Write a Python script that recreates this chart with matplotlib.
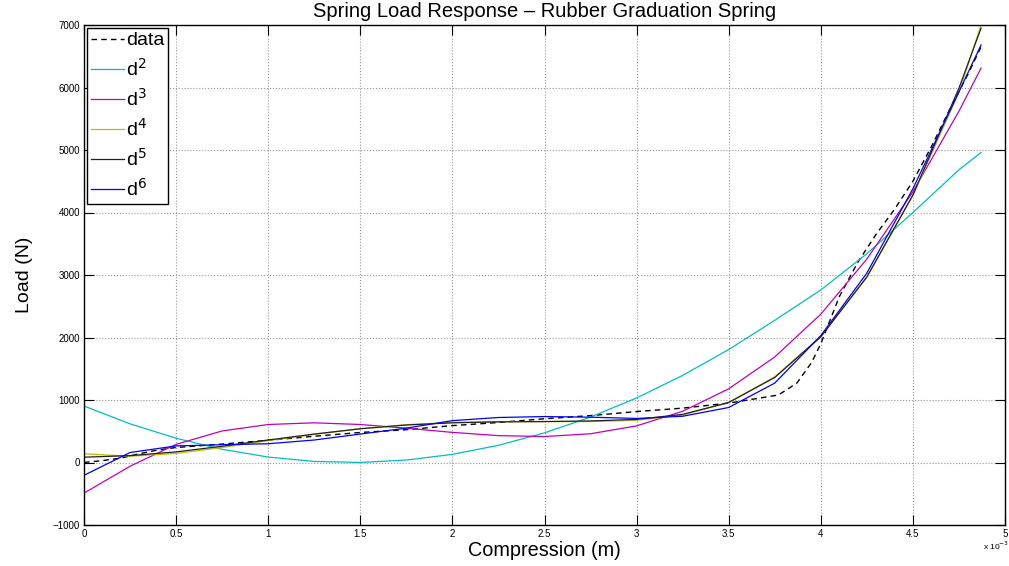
import matplotlib.pyplot as plt
import numpy as np

plt.rcParams['font.family'] = ['Liberation Sans', 'DejaVu Sans']

# compression values are in units of 1e-3 m (axis shows "x 10^-3")
x_fit = [0, 0.25, 0.5, 0.75, 1.0, 1.25, 1.5, 1.75, 2.0, 2.25, 2.5,
         2.75, 3.0, 3.25, 3.5, 3.75, 4.0, 4.25, 4.5, 4.75, 4.87]

load_d2 = [904, 619, 388, 211, 87, 17, 1, 39, 130, 275, 474,
           727, 1033, 1393, 1807, 2275, 2760, 3340, 4000, 4683, 4960]
load_d3 = [-490, -60, 290, 505, 608, 635, 608, 549, 482, 430, 415,
           460, 586, 819, 1179, 1688, 2373, 3255, 4330, 5620, 6310]
load_d4 = [140, 100, 145, 240, 350, 450, 540, 605, 640, 655, 655,
           655, 675, 760, 960, 1370, 2020, 2960, 4270, 5920, 7000]
load_d5 = [85, 110, 170, 260, 360, 455, 540, 600, 635, 650, 655,
           665, 690, 770, 960, 1360, 2010, 2970, 4280, 5990, 6950]
load_d6 = [-205, 160, 265, 285, 300, 360, 455, 550, 670, 720, 735,
           725, 705, 740, 880, 1270, 2030, 3030, 4380, 5930, 6680]

x_data = [0, 0.1, 0.2, 0.3, 0.4, 0.5, 0.75, 1.0, 1.25, 1.5, 1.75, 2.0,
          2.25, 2.5, 2.75, 3.0, 3.25, 3.5, 3.77, 3.87, 3.95, 4.0, 4.1,
          4.2, 4.3, 4.4, 4.5, 4.6, 4.7, 4.8, 4.87]
load_data = [0, 30, 70, 140, 200, 240, 295, 355, 420, 480, 525, 590,
             640, 700, 750, 815, 870, 950, 1080, 1270, 1600, 1900, 2650,
             3200, 3650, 4050, 4500, 5050, 5650, 6220, 6650]

x_ticks = [0, 0.5, 1, 1.5, 2, 2.5, 3, 3.5, 4, 4.5, 5]
x_tick_labels = ['0', '0.5', '1', '1.5', '2', '2.5', '3', '3.5', '4', '4.5', '5']
y_ticks = [-1000, 0, 1000, 2000, 3000, 4000, 5000, 6000, 7000]

fig = plt.figure(figsize=(10.09, 5.66), dpi=100)
ax = fig.add_axes([84 / 1009, 41 / 566, 921 / 1009, 500 / 566])

ax.plot(x_data, load_data, color='k', linestyle=(0, (4, 3)), lw=1.0, label='data')
ax.plot(x_fit, load_d2, color='#00bfbf', lw=0.9, label=r'd$^2$')
ax.plot(x_fit, load_d3, color='#bf00bf', lw=0.9, label=r'd$^3$')
ax.plot(x_fit, load_d4, color='#bfbf00', lw=0.9, label=r'd$^4$')
ax.plot(x_fit, load_d5, color='#222222', lw=0.9, label=r'd$^5$')
ax.plot(x_fit, load_d6, color='#0000ff', lw=0.9, label=r'd$^6$')

ax.set_xlim(0, 5)
ax.set_ylim(-1000, 7000)
ax.set_xticks(x_ticks)
ax.set_xticklabels(x_tick_labels)
ax.set_yticks(y_ticks)
ax.tick_params(direction='in', top=True, right=True, length=7, width=0.8,
               labelsize=7, pad=3)
ax.grid(True, linestyle=':', color='#999999', linewidth=0.8)
for s in ax.spines.values():
    s.set_linewidth(1.0)

ax.set_title('Spring Load Response \u2013 Rubber Graduation Spring', fontsize=14.5, pad=6)
ax.set_xlabel('Compression (m)', fontsize=14.3, labelpad=1)
ax.set_ylabel('Load (N)', fontsize=14, labelpad=14)
fig.text(0.974, 0.028, r'x 10$^{-3}$', fontsize=6)

leg = ax.legend(loc='upper left', fontsize=14, fancybox=False, framealpha=1,
                edgecolor='black', borderaxespad=0.15, handlelength=1.7,
                handletextpad=0.1, labelspacing=0.42, borderpad=0.2)
leg.get_frame().set_linewidth(1.0)

fig.savefig('out.png', dpi=100)
